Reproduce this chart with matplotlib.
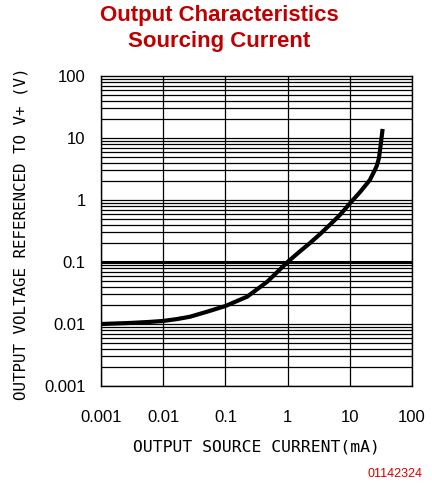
import matplotlib
matplotlib.use('Agg')
import matplotlib.pyplot as plt
import numpy as np

# curve
current_ma = [0.001, 0.003, 0.006, 0.01, 0.0166, 0.027, 0.051, 0.1, 0.224, 0.47, 1.0, 1.56, 2.26,
              3.3, 4.8, 6.9, 10, 14.5, 21, 25.3, 27, 29.4, 31.6, 33.7]
voltage_v = [0.0100, 0.0104, 0.0108, 0.0112, 0.0120, 0.0131, 0.0158, 0.0195, 0.0276, 0.048, 0.1, 0.147, 0.20,
             0.28, 0.40, 0.57, 0.88, 1.33, 2.1, 3.05, 3.5, 4.7, 8.2, 14]

x_ticks = [0.001, 0.01, 0.1, 1, 10, 100]
x_labels = ['0.001', '0.01', '0.1', '1', '10', '100']
y_ticks = [0.001, 0.01, 0.1, 1, 10, 100]
y_labels = ['0.001', '0.01', '0.1', '1', '10', '100']

fig = plt.figure(figsize=(4.32, 4.84), dpi=100)
ax = fig.add_axes([101/432, 1-386/484, 311/432, 310/484])
ax.set_xscale('log')
ax.set_yscale('log')
ax.set_xlim(0.001, 100)
ax.set_ylim(0.001, 100)

# grid: decades in x, 1..9 in y
for xv in x_ticks:
    ax.axvline(xv, color='black', lw=0.9, zorder=1)
for dec in y_ticks[:-1]:
    for m in range(1, 10):
        ax.axhline(dec*m, color='black', lw=0.9, zorder=1)
ax.axhline(0.1, color='black', lw=2.2, zorder=1)

ax.plot(current_ma, voltage_v, color='black', lw=3, solid_capstyle='butt',
        solid_joinstyle='round', zorder=3)

ax.set_xticks(x_ticks)
ax.set_xticklabels(x_labels, family='Liberation Sans', fontsize=12)
ax.set_yticks(y_ticks)
ax.set_yticklabels(y_labels, family='Liberation Sans', fontsize=12)
ax.minorticks_off()
ax.tick_params(axis='x', length=0, pad=17)
ax.tick_params(axis='y', length=0, pad=11)
for sp in ax.spines.values():
    sp.set_linewidth(1.0)
    sp.set_color('black')

fig.text(256.5/432, 1-447/484, 'OUTPUT SOURCE CURRENT(mA)', family='DejaVu Sans Mono',
         fontsize=11.8, ha='center', va='center')
fig.text(21/432, 1-234/484, 'OUTPUT VOLTAGE REFERENCED TO V+ (V)', family='DejaVu Sans Mono',
         fontsize=11.4, ha='center', va='center', rotation=90)

fig.text(219.5/432, 1-5/484, 'Output Characteristics\nSourcing Current', family='Liberation Sans',
         fontsize=16, fontweight='bold', color='#c00000', ha='center', va='top', linespacing=1.3)
fig.text(423/432, 1-474/484, '01142324', family='Liberation Sans', fontsize=9,
         color='#d40000', ha='right', va='center')

fig.savefig('out.png', dpi=100)
